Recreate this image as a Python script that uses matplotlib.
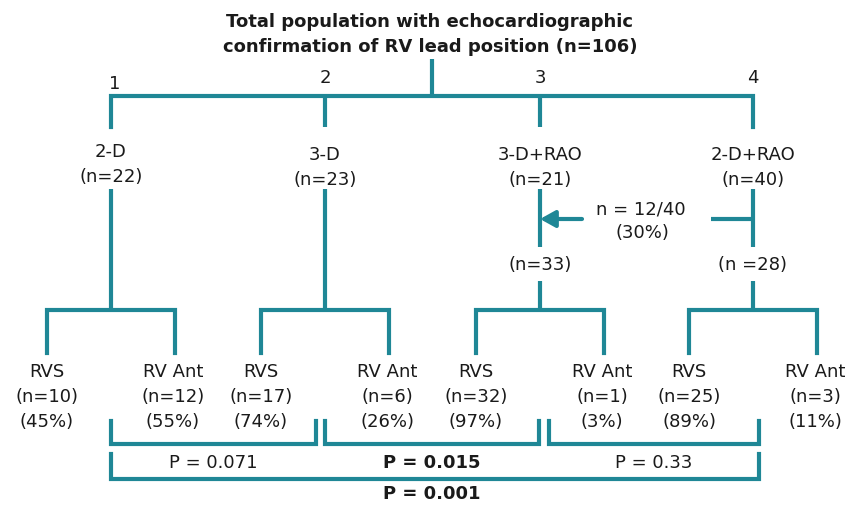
import matplotlib.pyplot as plt

# --- DATA ---
title_lines = ['Total population with echocardiographic',
               'confirmation of RV lead position (n=106)']
group_ids = ['1', '2', '3', '4']
group_names = ['2-D', '3-D', '3-D+RAO', '2-D+RAO']
group_n = [22, 23, 21, 40]
crossover_label = ['n = 12/40', '(30%)']
analysed_n = [None, None, 33, 28]
leaf_names = ['RVS', 'RV Ant']
leaf_n = [[10, 12], [17, 6], [32, 1], [25, 3]]
leaf_pct = [[45, 55], [74, 26], [97, 3], [89, 11]]
p_values = ['0.071', '0.015', '0.33']
p_overall = '0.001'

# --- LAYOUT (pixel coordinates, y down) ---
teal = '#1f8796'
lw = 3.0
fs = 13
gx = [111, 325, 540, 753]          # group centres
leaf_dx = 64                        # half width of leaf split

fig = plt.figure(figsize=(8.48, 5.06), dpi=100)
ax = fig.add_axes([0, 0, 1, 1])
ax.set_xlim(0, 848)
ax.set_ylim(506, 0)
ax.axis('off')


def seg(x0, y0, x1, y1):
    ax.plot([x0, x1], [y0, y1], color=teal, lw=lw, solid_capstyle='butt',
            solid_joinstyle='miter')


def txt(x, y, s, bold=False, size=fs):
    ax.text(x, y, s, ha='center', va='center', fontsize=size,
            fontweight='bold' if bold else 'normal', color='#1a1a1a')


# title
txt(430, 22, title_lines[0], bold=True, size=13)
txt(430, 47, title_lines[1], bold=True, size=13)

# top tree
seg(432, 60, 432, 97)
ax.plot([gx[0], gx[0], gx[-1], gx[-1]], [128, 97, 97, 128], color=teal, lw=lw,
        solid_joinstyle='miter')
for x in gx[1:3]:
    seg(x, 97, x, 128)
txt(115, 84, group_ids[0])
for x, gid in zip(gx[1:], group_ids[1:]):
    txt(x, 78, gid)

# group labels
for i, (x, name, n) in enumerate(zip(gx, group_names, group_n)):
    y0 = 152 if i == 0 else 155
    txt(x, y0, name)
    txt(x, y0 + 25, f'(n={n})')

# stems down to leaf splits
seg(gx[0], 190, gx[0], 311)
seg(gx[1], 190, gx[1], 311)
seg(gx[2], 190, gx[2], 248)
seg(gx[3], 190, gx[3], 248)

# crossover arrow 4 -> 3
ax.annotate('', xy=(gx[2], 220), xytext=(582, 220),
            arrowprops=dict(arrowstyle='-|>,head_length=0.9,head_width=0.5',
                            color=teal, lw=lw, shrinkA=0, shrinkB=0))
seg(711, 220, gx[3], 220)
txt(641, 210, crossover_label[0])
txt(642, 233, crossover_label[1])

for x, n in zip(gx[2:], analysed_n[2:]):
    txt(x, 265, f'(n={n})' if n != 28 else f'(n ={n})')
    seg(x, 282, x, 311)

# leaf splits and labels
for i, x in enumerate(gx):
    xl, xr = x - leaf_dx, x + leaf_dx
    ax.plot([xl, xl, xr, xr], [354, 311, 311, 354], color=teal, lw=lw,
            solid_joinstyle='miter')
    for j, lx in enumerate([xl, xr]):
        cx = lx + (-2 if j == 1 else 0)
        txt(cx, 372, leaf_names[j])
        txt(cx, 397, f'(n={leaf_n[i][j]})')
        txt(cx, 422, f'({leaf_pct[i][j]}%)')

# p-value brackets
brackets = [(111, 316), (325, 539), (549, 759)]
for (x0, x1), p in zip(brackets, p_values):
    ax.plot([x0, x0, x1, x1], [422, 445, 445, 422], color=teal, lw=lw,
            solid_joinstyle='miter')
    txt((x0 + x1) / 2, 463, f'P = {p}', bold=(p == '0.015'))
ax.plot([111, 111, 759, 759], [455, 480, 480, 455], color=teal, lw=lw,
        solid_joinstyle='miter')
txt(432, 494, f'P = {p_overall}', bold=True)

plt.savefig('out.png', dpi=100)
